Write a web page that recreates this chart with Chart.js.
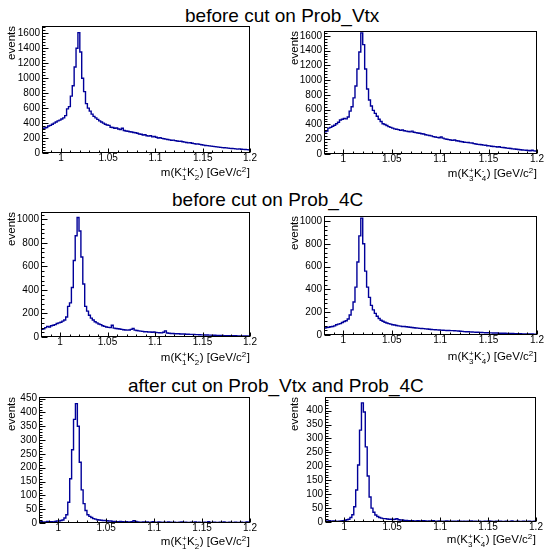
<!DOCTYPE html>
<html><head><meta charset="utf-8">
<script src="https://cdn.jsdelivr.net/npm/chart.js@4/dist/chart.umd.min.js"></script>
<style>
html,body{margin:0;padding:0;background:#fff;}
body{width:545px;height:549px;overflow:hidden;position:relative;font-family:"Liberation Sans",Arial,Helvetica,sans-serif;}
canvas{position:absolute;}
.ttl{position:absolute;font-size:19px;line-height:19px;white-space:nowrap;color:#000;}
</style></head>
<body>
<div class="ttl" style="left:185px;top:6px;">before cut on Prob_Vtx</div>
<div class="ttl" style="left:172px;top:190px;">before cut on Prob_4C</div>
<div class="ttl" style="left:128px;top:376px;">after cut on Prob_Vtx and Prob_4C</div>
<canvas id="c1"></canvas><canvas id="c2"></canvas>
<canvas id="c3"></canvas><canvas id="c4"></canvas>
<canvas id="c5"></canvas><canvas id="c6"></canvas>
<script>
// ---- histogram binning (0.98 - 1.20 GeV/c^2, 2 MeV bins) ----
const xRange = [0.98, 1.2];
const binWidth = 0.002;
const xTicks = [1, 1.05, 1.1, 1.15, 1.2];

// ---- y tick values ----
const yTicksVtx = [0, 200, 400, 600, 800, 1000, 1200, 1400, 1600];
const yTicks4C = [0, 200, 400, 600, 800, 1000];
const yTicksAfterL = [0, 50, 100, 150, 200, 250, 300, 350, 400, 450];
const yTicksAfterR = [0, 50, 100, 150, 200, 250, 300, 350, 400];

// ---- series (events per bin) ----
const vtxK1K2 = [320,335,340,360,370,385,400,415,430,440,
455,470,500,590,620,760,900,1150,1400,1610,
1350,1000,820,660,600,560,520,490,470,450,
430,415,400,385,375,370,345,340,330,335,
320,315,330,300,295,290,285,280,275,270,
265,255,250,240,245,230,225,230,215,220,
210,200,205,195,190,185,180,175,170,172,
165,160,155,158,150,145,140,135,138,130,
125,120,122,115,110,105,100,98,95,92,
88,85,82,78,75,72,70,68,65,62,
60,58,55,52,55,50,48,46,45,42];
const vtxK3K4 = [300,310,350,360,375,390,410,430,460,470,
480,475,500,580,640,760,920,1150,1380,1640,
1480,1150,880,730,650,590,550,510,470,440,
410,400,385,370,360,350,340,335,330,320,
325,315,310,305,300,310,295,290,285,280,
275,270,260,255,250,245,235,230,225,220,
230,215,205,200,195,190,185,190,180,175,
170,165,160,158,155,150,148,140,135,130,
128,125,120,118,112,110,105,102,100,95,
98,90,88,85,80,78,75,70,68,65,
60,58,55,52,50,48,45,50,42,40];
const c4K1K2 = [65,70,80,90,85,95,100,105,115,120,
125,135,145,170,260,290,420,650,860,1015,
900,680,450,260,220,185,160,145,130,120,
110,105,95,90,85,82,80,100,75,72,
70,68,65,62,60,58,60,65,72,58,
55,52,50,48,45,46,43,42,40,42,
38,37,36,35,40,52,34,32,30,30,
28,28,27,26,25,25,24,23,22,22,
21,20,20,19,18,18,17,17,16,16,
15,15,14,14,13,13,12,12,11,11,
10,10,10,9,9,9,8,8,8,7];
const c4K3K4 = [60,65,68,72,75,80,90,95,100,110,
118,125,140,175,220,290,420,640,870,1025,
800,560,420,330,260,220,190,165,145,130,
120,112,105,100,95,90,88,84,80,78,
75,74,72,70,68,66,64,62,60,58,
57,56,54,52,50,48,47,46,45,44,
43,42,41,40,39,38,38,37,36,35,
33,32,30,29,28,27,26,25,24,24,
23,22,21,20,20,19,19,18,17,17,
16,16,15,15,14,14,13,13,12,12,
11,11,10,10,10,9,9,9,8,8];
const afterK1K2 = [3,5,2,4,6,3,5,4,6,7,
7,9,11,18,30,75,160,265,375,432,
350,220,120,70,45,30,24,20,16,14,
12,11,10,9,9,8,7,7,6,6,
5,5,6,5,4,5,4,4,5,8,
6,4,3,3,4,3,4,2,3,5,
3,2,4,3,2,3,2,4,3,2,
3,2,2,3,4,2,3,2,2,3,
2,4,2,3,2,2,3,2,5,2,
2,3,2,2,3,2,4,2,2,3,
2,2,3,2,2,3,2,2,4,2];
const afterK3K4 = [4,3,5,2,4,3,2,3,4,5,
6,8,10,16,26,55,115,205,330,428,
395,270,165,90,50,35,25,20,16,14,
12,12,11,10,10,9,10,12,8,7,
7,6,6,5,5,5,4,4,5,4,
4,5,4,3,4,3,5,3,3,4,
3,2,3,4,3,2,3,3,2,4,
3,2,3,2,3,2,4,2,3,2,
3,2,2,3,2,4,3,2,2,3,
2,3,2,2,3,2,2,4,2,2,
3,2,2,3,2,2,3,2,2,3];

// ---- panel layout ----
const panels = [
  {id:'c1', values:vtxK1K2, yMax:1698, yTicks:yTicksVtx, kIdx:['1','2'], cv:{x:0,y:0,w:272,h:184}, area:{l:42,t:26,r:250,b:153}, evPad:5, xtY:23},
  {id:'c2', values:vtxK3K4, yMax:1665, yTicks:yTicksVtx, kIdx:['3','4'], cv:{x:272,y:0,w:273,h:184}, area:{l:324,t:31,r:537,b:154}, evPad:16, xtY:23},
  {id:'c3', values:c4K1K2, yMax:1062, yTicks:yTicks4C, kIdx:['1','2'], cv:{x:0,y:184,w:272,h:181}, area:{l:41,t:212,r:250,b:337}, evPad:5, xtY:24},
  {id:'c4', values:c4K3K4, yMax:1044, yTicks:yTicks4C, kIdx:['3','4'], cv:{x:272,y:184,w:273,h:181}, area:{l:324,t:216,r:537,b:335}, evPad:16, xtY:25},
  {id:'c5', values:afterK1K2, yMax:456, yTicks:yTicksAfterL, kIdx:['1','2'], cv:{x:0,y:365,w:272,h:184}, area:{l:39,t:397,r:250,b:523}, evPad:5, xtY:22},
  {id:'c6', values:afterK3K4, yMax:449, yTicks:yTicksAfterR, kIdx:['3','4'], cv:{x:272,y:365,w:273,h:184}, area:{l:325,t:397,r:536,b:522}, evPad:16, xtY:21}
];

const FONT = '"Liberation Sans", Arial, Helvetica, sans-serif';

const rootFrame = {
  id: 'rootFrame',
  afterDraw(chart, args, opts) {
    const {ctx, chartArea: a, scales: {x, y}} = chart;
    ctx.save();
    ctx.strokeStyle = '#000';
    ctx.lineWidth = 1;
    const L = Math.round(a.left) + 0.5, R = Math.round(a.right) - 0.5;
    const T = Math.round(a.top) + 0.5, B = Math.round(a.bottom) - 0.5;
    ctx.strokeRect(L, T, R - L, B - T);
    ctx.beginPath();
    // y ticks (inside, from left frame)
    const yt = y.ticks.map(t => t.value);
    const ys = yt[1] - yt[0];
    for (let k = 0; k * ys / 5 <= y.max + 1e-9; k++) {
      const v = k * ys / 5;
      const py = Math.round(y.getPixelForValue(v)) + 0.5;
      if (py < T - 0.1) break;
      const len = (k % 5 === 0) ? 6 : 3;
      ctx.moveTo(L, py); ctx.lineTo(L + len, py);
    }
    // x ticks (inside, from bottom frame)
    const xs = xTicks[1] - xTicks[0];
    const x0 = xTicks[0];
    for (let k = -10; k <= 30; k++) {
      const v = x0 + k * xs / 5;
      if (v < x.min - 1e-9 || v > x.max + 1e-9) continue;
      const px = Math.round(x.getPixelForValue(v)) + 0.5;
      const len = (((k % 5) + 5) % 5 === 0) ? 4 : 2;
      ctx.moveTo(px, B); ctx.lineTo(px, B - len);
    }
    ctx.stroke();
    // x axis title with stacked scripts
    const fs = 11.5, ss = 8;
    const parts = [
      {t: 'm(K'}, {sup: '+', sub: opts.kIdx[0]}, {t: 'K'}, {sup: '-', sub: opts.kIdx[1]},
      {t: ') [GeV/c'}, {sup: '2'}, {t: ']'}
    ];
    const big = fs + 'px ' + FONT, small = ss + 'px ' + FONT;
    let w = 0;
    const widths = parts.map(p => {
      let pw;
      if (p.t) { ctx.font = big; pw = ctx.measureText(p.t).width; }
      else { ctx.font = small; pw = Math.max(ctx.measureText(p.sup || '').width, ctx.measureText(p.sub || '').width) + 0.5; }
      w += pw; return pw;
    });
    let cx = a.right - w;
    const base = a.bottom + opts.xtY;
    ctx.fillStyle = '#000';
    ctx.textBaseline = 'alphabetic';
    ctx.textAlign = 'left';
    parts.forEach((p, i) => {
      if (p.t) { ctx.font = big; ctx.fillText(p.t, cx, base); }
      else {
        ctx.font = small;
        if (p.sup) ctx.fillText(p.sup, cx, base - 4.5);
        if (p.sub) ctx.fillText(p.sub, cx, base + 3.5);
      }
      cx += widths[i];
    });
    ctx.restore();
  }
};

panels.forEach(p => {
  const el = document.getElementById(p.id);
  el.width = p.cv.w; el.height = p.cv.h;
  el.style.left = p.cv.x + 'px'; el.style.top = p.cv.y + 'px';
  el.style.width = p.cv.w + 'px'; el.style.height = p.cv.h + 'px';
  const pts = p.values.map((v, i) => ({x: xRange[0] + i * binWidth, y: v}));
  pts.push({x: xRange[1], y: p.values[p.values.length - 1]});
  const a = p.area, c = p.cv;
  new Chart(el, {
    type: 'line',
    data: {datasets: [{data: pts, stepped: true, borderColor: '#000099', borderWidth: 1.4,
      pointRadius: 0, fill: false, tension: 0}]},
    options: {
      responsive: false, animation: false, events: [],
      devicePixelRatio: 1,
      layout: {padding: {left: 0, top: a.t - c.y, right: c.w - (a.r - c.x), bottom: 0}},
      plugins: {legend: {display: false}, tooltip: {enabled: false}, title: {display: false},
        rootFrame: {kIdx: p.kIdx, xtY: p.xtY}},
      scales: {
        x: {type: 'linear', min: xRange[0], max: xRange[1],
          grid: {display: false, drawTicks: false}, border: {display: false},
          afterBuildTicks: s => { s.ticks = xTicks.map(v => ({value: v})); },
          afterFit: s => { s.height = c.h - (a.b - c.y); },
          ticks: {color: '#000', font: {family: FONT, size: 10, lineHeight: 1}, padding: 0,
            autoSkip: false, maxRotation: 0, minRotation: 0, callback: v => String(v)}},
        y: {type: 'linear', min: 0, max: p.yMax,
          grid: {display: false, drawTicks: false}, border: {display: false},
          afterBuildTicks: s => { s.ticks = p.yTicks.map(v => ({value: v})); },
          afterFit: s => { s.width = a.l - c.x; },
          ticks: {color: '#000', font: {family: FONT, size: 10, lineHeight: 1}, padding: 2,
            autoSkip: false, callback: v => String(v)},
          title: {display: true, text: 'events', align: 'end', color: '#000',
            font: {family: FONT, size: 11.5, lineHeight: 1.2}, padding: {top: p.evPad, bottom: 0}}}
      }
    },
    plugins: [rootFrame]
  });
});
</script>
</body></html>
